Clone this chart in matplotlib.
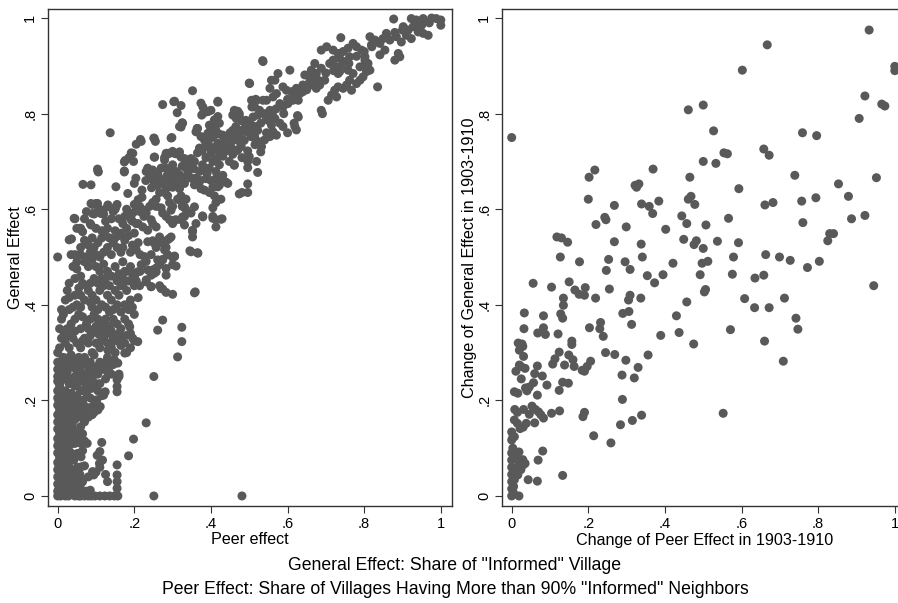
import matplotlib
matplotlib.use("Agg")
import matplotlib.pyplot as plt

plt.rcParams['font.family'] = ['Liberation Sans', 'DejaVu Sans']

# ---------------- Left panel data: (Peer effect, General Effect) ----------------
left_top = [
    (0.877,0.998),(0.923,0.999),(0.936,0.996),(0.954,0.999),(0.976,1.0),(0.988,0.999),(1.0,0.996),(1.0,0.985),
    (0.902,0.982),(0.915,0.975),(0.928,0.982),(0.941,0.971),(0.954,0.968),(0.967,0.964),(0.910,0.964),(0.923,0.957),
    (0.897,0.950),(0.884,0.961),(0.936,0.989),(0.945,0.982),(0.858,0.968),(0.849,0.957),(0.841,0.947),(0.854,0.933),
    (0.841,0.923),(0.815,0.961),(0.828,0.954),(0.819,0.944),(0.832,0.950),(0.867,0.954),(0.889,0.926),(0.880,0.912),
    (0.893,0.919),(0.739,0.959),(0.688,0.933),(0.702,0.940),(0.719,0.933),(0.732,0.926),(0.745,0.930),(0.758,0.937),
    (0.771,0.947),(0.780,0.940),(0.793,0.933),(0.802,0.919),(0.762,0.919),(0.749,0.909),(0.736,0.916),(0.536,0.909),
    (0.671,0.905),(0.662,0.891),(0.675,0.884),(0.688,0.895),(0.697,0.870),(0.710,0.905),(0.719,0.912),(0.728,0.898),
    (0.736,0.888),(0.671,0.870),(0.658,0.877),(0.645,0.881),(0.658,0.867),(0.675,0.853),(0.684,0.860),
    (0.758,0.891),(0.771,0.884),(0.789,0.898),(0.802,0.902),(0.810,0.905),(0.806,0.888),(0.797,0.877),(0.789,0.870),
    (0.762,0.870),(0.754,0.860),(0.745,0.853),(0.732,0.856),(0.723,0.849),(0.715,0.839),(0.706,0.828),(0.728,0.835),
    (0.767,0.849),(0.780,0.863),(0.815,0.891),(0.802,0.912),(0.835,0.856),(0.732,0.884),(0.691,0.800),
    (0.700,0.885),(0.720,0.890),(0.740,0.900),(0.760,0.905),(0.780,0.920),(0.800,0.930),(0.820,0.940),(0.840,0.950),
    (0.860,0.960),(0.880,0.970),(0.900,0.975),(0.950,0.985),(0.970,0.990),(0.640,0.860),(0.650,0.850),(0.660,0.860),
    (0.680,0.870),
]
left_upper = [
    (0.606,0.891),(0.575,0.884),(0.558,0.870),(0.567,0.870),(0.588,0.856),(0.597,0.849),(0.610,0.846),(0.623,0.853),
    (0.632,0.842),(0.640,0.846),(0.628,0.828),(0.614,0.828),(0.601,0.821),(0.588,0.814),(0.580,0.821),(0.571,0.842),
    (0.554,0.853),(0.545,0.828),(0.562,0.835),(0.554,0.807),(0.536,0.828),(0.519,0.828),(0.514,0.814),(0.527,0.807),
    (0.540,0.800),(0.510,0.793),(0.523,0.797),(0.549,0.786),(0.567,0.790),(0.558,0.776),(0.580,0.780),(0.588,0.773),
    (0.571,0.755),(0.562,0.762),(0.554,0.752),(0.540,0.745),(0.527,0.741),(0.532,0.731),(0.514,0.752),(0.519,0.773),
    (0.501,0.762),(0.506,0.776),(0.628,0.793),(0.623,0.766),(0.619,0.773),(0.688,0.807),(0.501,0.863),(0.506,0.828),
    (0.519,0.700),(0.617,0.780),(0.626,0.796),(0.600,0.760),(0.545,0.760),(0.530,0.720),(0.515,0.735),
    (0.352,0.848),(0.274,0.819),(0.303,0.825),(0.322,0.817),(0.374,0.822),(0.380,0.801),(0.394,0.805),(0.418,0.826),
    (0.318,0.773),(0.325,0.781),(0.365,0.769),(0.361,0.762),(0.409,0.787),(0.418,0.794),(0.396,0.776),(0.422,0.780),
    (0.137,0.760),(0.251,0.749),(0.255,0.742),(0.218,0.742),(0.205,0.736),(0.192,0.718),(0.198,0.700),(0.186,0.708),
    (0.174,0.680),(0.176,0.702),(0.105,0.680),(0.296,0.749),(0.300,0.721),(0.287,0.717),(0.309,0.716),(0.279,0.708),
    (0.283,0.717),(0.253,0.709),(0.322,0.709),(0.331,0.706),(0.339,0.699),(0.348,0.706),(0.357,0.700),(0.335,0.686),
    (0.365,0.718),(0.370,0.728),(0.377,0.722),(0.387,0.736),(0.394,0.744),(0.405,0.751),(0.413,0.765),(0.422,0.757),
    (0.457,0.765),(0.465,0.773),(0.448,0.755),(0.474,0.794),(0.461,0.801),(0.470,0.805),(0.500,0.864),(0.535,0.911),
    (0.511,0.823),(0.517,0.830),(0.481,0.785),(0.491,0.786),(0.491,0.762),(0.487,0.744),(0.478,0.736),(0.496,0.722),
    (0.481,0.708),(0.509,0.751),(0.522,0.765),(0.379,0.814),(0.390,0.804),(0.400,0.807),(0.376,0.797),(0.461,0.807),
    (0.457,0.797),(0.466,0.790),(0.474,0.800),(0.487,0.783),(0.496,0.780),(0.507,0.814),(0.326,0.780),(0.322,0.772),
    (0.364,0.769),(0.374,0.752),(0.383,0.745),(0.392,0.759),(0.400,0.769),(0.409,0.773),(0.431,0.755),(0.435,0.745),
    (0.461,0.745),(0.470,0.759),(0.483,0.766),(0.505,0.752),(0.392,0.731),(0.400,0.717),(0.418,0.738),(0.426,0.735),
    (0.452,0.731),(0.470,0.724),(0.479,0.731),(0.500,0.710),(0.216,0.746),(0.196,0.717),(0.252,0.748),(0.298,0.750),
    (0.252,0.709),(0.283,0.713),(0.292,0.717),(0.305,0.717),(0.318,0.720),(0.340,0.703),(0.348,0.692),(0.279,0.703),
    (0.104,0.684),(0.305,0.826),(0.312,0.802),(0.418,0.824),
    (0.415,0.705),(0.430,0.730),(0.440,0.740),(0.450,0.760),(0.475,0.750),(0.490,0.770),(0.510,0.770),(0.530,0.780),
    (0.545,0.790),(0.560,0.800),(0.570,0.810),(0.590,0.800),(0.600,0.830),(0.620,0.840),
]
left_mid = [
    (0.448,0.736),(0.439,0.722),(0.431,0.711),(0.457,0.715),(0.465,0.722),(0.448,0.700),(0.461,0.693),
    (0.405,0.729),(0.418,0.722),(0.387,0.708),(0.378,0.693),(0.370,0.679),(0.405,0.700),(0.422,0.693),(0.413,0.679),
    (0.396,0.686),(0.431,0.671),(0.427,0.664),(0.439,0.657),(0.413,0.664),(0.387,0.664),(0.370,0.657),(0.405,0.646),
    (0.396,0.635),(0.409,0.628),(0.422,0.650),(0.374,0.643),(0.496,0.700),(0.496,0.687),(0.522,0.677),(0.496,0.653),
    (0.474,0.632),(0.496,0.635),(0.481,0.635),(0.413,0.614),(0.426,0.621),(0.413,0.578),(0.413,0.563),(0.429,0.580),
    (0.405,0.585),(0.405,0.603),(0.378,0.586),(0.352,0.556),(0.352,0.542),(0.345,0.513),(0.365,0.509),(0.361,0.570),
    (0.348,0.592),(0.335,0.599),(0.325,0.606),(0.335,0.621),(0.461,0.692),(0.444,0.654),(0.418,0.647),(0.383,0.640),
    (0.357,0.651),(0.370,0.661),(0.348,0.665),(0.331,0.654),(0.318,0.672),(0.405,0.581),(0.426,0.579),(0.379,0.584),
    (0.331,0.567),(0.352,0.553),(0.326,0.584),(0.305,0.577),(0.296,0.598),(0.331,0.605),(0.357,0.605),(0.318,0.619),
    (0.348,0.511),(0.366,0.508),
    (0.300,0.664),(0.309,0.679),(0.292,0.679),(0.318,0.671),(0.326,0.664),(0.283,0.664),(0.274,0.657),(0.266,0.653),
    (0.257,0.650),(0.248,0.664),(0.240,0.671),(0.231,0.679),(0.235,0.686),(0.248,0.682),(0.261,0.675),(0.283,0.686),
    (0.300,0.693),(0.270,0.686),(0.309,0.653),(0.300,0.646),(0.318,0.643),(0.283,0.643),(0.266,0.635),(0.257,0.621),
    (0.248,0.614),(0.240,0.606),(0.257,0.606),(0.270,0.603),(0.274,0.592),(0.283,0.585),(0.292,0.578),(0.300,0.570),
    (0.309,0.578),(0.322,0.578),(0.331,0.585),(0.313,0.621),(0.322,0.628),(0.300,0.606),(0.292,0.614),(0.287,0.628),
    (0.279,0.635),(0.200,0.654),(0.204,0.665),(0.183,0.633),(0.235,0.682),(0.244,0.672),(0.252,0.654),(0.174,0.678),
    (0.174,0.699),(0.152,0.647),(0.087,0.651),(0.106,0.678),(0.066,0.652),
    (0.296,0.542),(0.305,0.502),(0.300,0.484),(0.274,0.495),(0.266,0.484),(0.257,0.477),(0.270,0.534),(0.274,0.531),
    (0.287,0.505),(0.283,0.520),(0.266,0.542),(0.257,0.563),(0.248,0.570),(0.244,0.578),(0.231,0.592),(0.222,0.599),
    (0.214,0.606),(0.205,0.599),(0.196,0.592),(0.192,0.578),(0.205,0.570),(0.222,0.563),(0.235,0.556),(0.248,0.534),
    (0.257,0.520),(0.244,0.505),(0.231,0.491),(0.218,0.484),(0.209,0.469),(0.201,0.462),(0.196,0.448),(0.214,0.440),
    (0.231,0.448),(0.244,0.462),(0.257,0.469),(0.266,0.440),(0.274,0.433),(0.283,0.426),(0.300,0.422),(0.253,0.473),
    (0.283,0.462),(0.235,0.532),(0.252,0.529),(0.274,0.529),(0.279,0.515),(0.287,0.536),(0.292,0.539),(0.274,0.494),
    (0.261,0.494),(0.235,0.473),(0.248,0.473),(0.226,0.501),(0.231,0.452),(0.252,0.466),(0.244,0.438),(0.283,0.476),
    (0.309,0.481),(0.305,0.501),(0.300,0.499),(0.357,0.425),(0.359,0.427),(0.270,0.434),(0.244,0.438),
    (0.220,0.640),(0.230,0.660),(0.245,0.645),(0.265,0.665),(0.285,0.670),(0.295,0.655),(0.310,0.665),(0.325,0.690),
    (0.340,0.675),(0.355,0.685),(0.360,0.665),(0.385,0.685),(0.390,0.675),(0.400,0.660),
]
left_band = [
    (0.090,0.610),(0.100,0.612),(0.110,0.600),(0.095,0.590),(0.120,0.590),(0.130,0.605),(0.140,0.580),(0.150,0.600),
    (0.160,0.580),(0.170,0.570),(0.180,0.600),(0.190,0.590),(0.200,0.610),(0.210,0.620),(0.220,0.625),(0.085,0.570),
    (0.070,0.580),(0.045,0.580),(0.050,0.560),(0.060,0.560),(0.100,0.560),(0.115,0.555),(0.130,0.560),(0.150,0.555),
    (0.165,0.550),(0.180,0.560),(0.200,0.550),(0.210,0.570),(0.225,0.585),(0.155,0.610),(0.036,0.538),(0.000,0.500),
    (0.043,0.581),(0.057,0.560),(0.065,0.553),(0.074,0.532),(0.087,0.567),(0.087,0.612),(0.104,0.612),(0.091,0.591),
    (0.113,0.591),(0.131,0.609),(0.152,0.605),
    (0.075,0.595),(0.105,0.597),(0.125,0.575),(0.145,0.595),(0.175,0.585),(0.195,0.575),(0.215,0.595),
    (0.035,0.505),(0.045,0.505),(0.060,0.505),(0.075,0.500),(0.085,0.510),(0.095,0.520),(0.105,0.530),(0.115,0.540),
    (0.125,0.545),(0.135,0.540),(0.145,0.530),(0.155,0.520),(0.165,0.510),(0.175,0.535),(0.185,0.545),(0.195,0.525),
    (0.205,0.515),(0.215,0.505),(0.110,0.500),(0.120,0.510),(0.130,0.520),(0.140,0.505),(0.160,0.545),(0.080,0.525),
    (0.070,0.535),(0.170,0.490),(0.030,0.536),
    (0.090,0.540),(0.100,0.505),(0.150,0.540),(0.170,0.520),(0.190,0.510),(0.210,0.530),(0.060,0.520),(0.050,0.490),
    (0.040,0.480),(0.050,0.475),(0.060,0.460),(0.070,0.490),(0.080,0.480),(0.090,0.495),(0.100,0.480),(0.110,0.470),
    (0.120,0.485),(0.130,0.470),(0.140,0.460),(0.150,0.480),(0.160,0.465),(0.170,0.455),(0.180,0.470),(0.190,0.480),
    (0.200,0.460),(0.205,0.450),(0.215,0.470),(0.065,0.445),(0.045,0.455),(0.095,0.455),(0.125,0.455),(0.105,0.445),
    (0.155,0.450),(0.185,0.450),
    (0.055,0.435),(0.085,0.445),(0.115,0.455),(0.135,0.440),(0.165,0.440),(0.175,0.470),(0.195,0.465),(0.030,0.445),
    (0.025,0.430),(0.045,0.420),
    (0.020,0.410),(0.030,0.415),(0.040,0.395),(0.050,0.400),(0.060,0.420),(0.070,0.410),(0.080,0.430),(0.090,0.420),
    (0.100,0.410),(0.110,0.430),(0.120,0.440),(0.130,0.420),(0.140,0.410),(0.150,0.430),(0.160,0.420),(0.170,0.440),
    (0.180,0.430),(0.190,0.410),(0.200,0.440),(0.210,0.415),(0.075,0.440),(0.085,0.405),(0.105,0.390),(0.125,0.395),
    (0.145,0.390),(0.165,0.385),(0.185,0.390),(0.200,0.380),
    (0.030,0.390),(0.060,0.395),(0.090,0.395),(0.115,0.400),(0.135,0.385),(0.155,0.400),(0.175,0.400),(0.195,0.395),
    (0.010,0.390),
    (0.010,0.370),(0.015,0.380),(0.025,0.350),(0.035,0.360),(0.045,0.370),(0.055,0.380),(0.065,0.375),(0.075,0.360),
    (0.085,0.370),(0.095,0.380),(0.105,0.370),(0.115,0.360),(0.125,0.370),(0.135,0.355),(0.145,0.370),(0.155,0.360),
    (0.165,0.350),(0.175,0.370),(0.185,0.360),(0.060,0.350),(0.080,0.350),(0.100,0.355),(0.120,0.340),(0.140,0.345),
    (0.035,0.340),(0.015,0.345),(0.170,0.335),(0.190,0.340),
    (0.005,0.350),(0.025,0.335),(0.045,0.345),(0.065,0.325),(0.085,0.335),(0.095,0.345),(0.115,0.325),(0.145,0.330),
    (0.160,0.340),(0.175,0.320),(0.150,0.300),(0.005,0.310),(0.000,0.300),
    (0.010,0.330),(0.020,0.320),(0.030,0.310),(0.040,0.330),(0.050,0.320),(0.060,0.310),(0.070,0.330),(0.080,0.320),
    (0.090,0.300),(0.100,0.320),(0.110,0.310),(0.120,0.330),(0.130,0.320),(0.140,0.310),(0.155,0.325),(0.165,0.315),
    (0.180,0.300),(0.200,0.325),(0.190,0.310),(0.105,0.340),(0.130,0.345),(0.196,0.330),(0.209,0.323),(0.183,0.337),
    (0.175,0.299),(0.188,0.354),(0.131,0.305),(0.140,0.319),(0.110,0.337),(0.115,0.347),(0.136,0.340),
]
left_base = [
    (0.000,0.250),(0.005,0.260),(0.010,0.270),(0.020,0.280),(0.025,0.260),(0.030,0.290),(0.040,0.270),(0.045,0.250),
    (0.050,0.280),(0.055,0.290),(0.060,0.260),(0.065,0.275),(0.070,0.290),(0.075,0.250),(0.080,0.270),(0.085,0.280),
    (0.090,0.260),(0.100,0.270),(0.110,0.280),(0.120,0.265),(0.130,0.260),(0.135,0.270),(0.150,0.280),(0.155,0.250),
    (0.160,0.255),(0.015,0.290),(0.035,0.295),(0.095,0.295),(0.157,0.278),(0.148,0.285),
    (0.000,0.280),(0.000,0.265),(0.000,0.205),(0.008,0.240),(0.012,0.285),(0.018,0.255),(0.028,0.275),(0.033,0.245),
    (0.038,0.285),(0.048,0.265),(0.052,0.235),(0.062,0.285),(0.068,0.255),(0.072,0.225),(0.082,0.255),(0.088,0.225),
    (0.095,0.265),(0.105,0.255),(0.110,0.235),(0.115,0.270),(0.125,0.280),(0.140,0.255),(0.145,0.275),(0.125,0.245),
    (0.130,0.290),
    (0.000,0.240),(0.000,0.220),(0.005,0.230),(0.010,0.210),(0.015,0.245),(0.020,0.220),(0.025,0.205),(0.030,0.235),
    (0.035,0.215),(0.040,0.200),(0.045,0.230),(0.050,0.210),(0.055,0.245),(0.060,0.220),(0.065,0.200),(0.070,0.240),
    (0.075,0.215),(0.080,0.230),(0.085,0.205),(0.090,0.245),(0.100,0.235),(0.105,0.220),(0.115,0.210),(0.155,0.218),
    (0.155,0.229),(0.120,0.211),(0.124,0.218),(0.102,0.201),(0.111,0.187),(0.160,0.250),(0.155,0.243),(0.095,0.200),
    (0.000,0.190),(0.000,0.170),(0.000,0.155),(0.005,0.180),(0.010,0.160),(0.015,0.195),(0.020,0.170),(0.025,0.185),
    (0.030,0.155),(0.035,0.190),(0.040,0.170),(0.045,0.160),(0.050,0.180),(0.055,0.195),(0.060,0.165),(0.065,0.175),
    (0.070,0.155),(0.075,0.185),(0.080,0.165),(0.090,0.170),(0.100,0.190),(0.105,0.180),(0.100,0.200),
    (0.003,0.200),(0.008,0.165),(0.012,0.185),(0.018,0.155),(0.022,0.200),(0.028,0.165),(0.033,0.175),(0.038,0.150),
    (0.042,0.185),(0.048,0.195),(0.058,0.175),(0.068,0.190),(0.073,0.170),(0.085,0.185),(0.095,0.175),
    (0.000,0.140),(0.000,0.120),(0.000,0.105),(0.005,0.130),(0.010,0.110),(0.015,0.145),(0.020,0.120),(0.025,0.135),
    (0.030,0.105),(0.035,0.125),(0.040,0.140),(0.045,0.110),(0.050,0.130),(0.060,0.145),(0.070,0.115),(0.061,0.110),
    (0.077,0.110),(0.115,0.112),(0.065,0.095),(0.110,0.093),
    (0.008,0.125),(0.012,0.140),(0.018,0.105),(0.022,0.130),(0.028,0.120),(0.032,0.145),(0.038,0.110),(0.043,0.125),
    (0.055,0.120),(0.065,0.130),(0.003,0.110),
    (0.000,0.090),(0.000,0.070),(0.000,0.055),(0.005,0.080),(0.010,0.060),(0.015,0.095),(0.020,0.075),(0.025,0.085),
    (0.030,0.060),(0.035,0.090),(0.045,0.050),(0.052,0.089),(0.061,0.082),(0.061,0.061),(0.070,0.063),(0.094,0.044),
    (0.091,0.051),(0.117,0.075),(0.109,0.068),(0.155,0.065),(0.155,0.044),(0.155,0.030),(0.155,0.016),(0.080,0.040),
    (0.060,0.035),(0.061,0.026),(0.061,0.012),
    (0.003,0.065),(0.008,0.045),(0.012,0.085),(0.018,0.060),(0.022,0.035),(0.028,0.070),(0.032,0.090),(0.038,0.055),
    (0.042,0.075),(0.003,0.015),(0.008,0.000),(0.013,0.025),(0.018,0.010),(0.028,0.000),(0.033,0.015),(0.038,0.030),
    (0.043,0.010),(0.048,0.035),(0.052,0.060),(0.058,0.045),(0.065,0.010),(0.085,0.012),(0.100,0.050),(0.103,0.085),
    (0.125,0.045),(0.110,0.060),(0.130,0.030),
    (0.000,0.040),(0.000,0.025),(0.000,0.010),(0.000,0.000),(0.005,0.035),(0.010,0.015),(0.015,0.045),(0.020,0.000),
    (0.025,0.020),(0.030,0.030),(0.035,0.005),(0.040,0.040),(0.045,0.000),(0.050,0.020),(0.055,0.000),(0.060,0.000),
    (0.065,0.030),(0.070,0.000),(0.075,0.010),(0.080,0.000),(0.088,0.000),(0.097,0.000),(0.110,0.000),(0.123,0.000),
    (0.136,0.000),(0.148,0.000),(0.157,0.000),(0.030,0.045),(0.045,0.025),
    (0.251,0.250),(0.231,0.153),(0.198,0.119),(0.185,0.084),(0.313,0.291),(0.324,0.353),(0.324,0.323),(0.261,0.347),
    (0.274,0.368),(0.251,0.000),(0.481,0.000),
]

# ---------------- Right panel data: (Change of Peer Effect, Change of General Effect) ----------------
right_high = [
    (0.000,0.750),(0.933,0.975),(0.667,0.944),(0.602,0.891),(1.000,0.899),(1.000,0.890),(0.500,0.818),(0.461,0.808),
    (0.922,0.837),(0.966,0.820),(0.974,0.816),(0.907,0.790),(0.527,0.764),(0.759,0.760),(0.796,0.754),(0.554,0.718),
    (0.563,0.716),(0.658,0.726),(0.672,0.713),(0.500,0.700),(0.533,0.696),(0.739,0.671),(0.369,0.684),(0.217,0.682),
    (0.202,0.667),(0.465,0.667),(0.322,0.650),(0.332,0.653),(0.326,0.646),(0.593,0.643),(0.853,0.653),(0.200,0.621),
    (0.384,0.617),(0.339,0.611),(0.359,0.606),(0.368,0.591),(0.461,0.621),(0.468,0.627),(0.478,0.610),(0.661,0.609),
    (0.682,0.614),(0.757,0.617),(0.794,0.624),(0.879,0.627),(0.268,0.608),(0.444,0.586),(0.922,0.587),(0.566,0.581),
    (0.887,0.580),(0.952,0.666),(0.243,0.583),(0.246,0.578),(0.220,0.568),(0.402,0.558),(0.457,0.570),(0.507,0.567),
    (0.760,0.572),(0.299,0.563),
]
right_mid = [
    (0.118,0.542),(0.130,0.540),(0.146,0.531),(0.268,0.532),(0.338,0.527),(0.449,0.537),(0.482,0.534),(0.476,0.526),
    (0.500,0.518),(0.537,0.533),(0.592,0.530),(0.830,0.549),(0.840,0.549),(0.825,0.534),(0.127,0.500),(0.177,0.490),
    (0.253,0.495),(0.341,0.500),(0.296,0.490),(0.247,0.472),(0.309,0.474),(0.421,0.487),(0.497,0.487),(0.512,0.491),
    (0.579,0.500),(0.663,0.505),(0.699,0.500),(0.727,0.493),(0.803,0.491),(0.772,0.478),(0.354,0.461),(0.373,0.446),
    (0.395,0.463),(0.492,0.463),(0.576,0.464),(0.635,0.456),(0.658,0.462),(0.945,0.440),(0.056,0.445),(0.104,0.437),
    (0.150,0.448),(0.165,0.431),(0.176,0.422),(0.190,0.420),(0.192,0.436),(0.255,0.433),(0.219,0.414),(0.135,0.414),
    (0.135,0.399),(0.506,0.432),(0.503,0.427),(0.309,0.420),(0.305,0.410),(0.337,0.414),(0.457,0.406),(0.608,0.413),
    (0.712,0.414),(0.634,0.394),(0.672,0.394),(0.033,0.383),(0.128,0.381),(0.133,0.372),(0.083,0.377),(0.290,0.382),
    (0.306,0.386),(0.430,0.377),(0.742,0.372),(0.032,0.350),(0.083,0.352),(0.088,0.338),(0.068,0.341),(0.121,0.339),
    (0.203,0.352),(0.232,0.363),(0.230,0.350),(0.239,0.334),(0.313,0.359),(0.389,0.336),(0.437,0.342),(0.571,0.348),
    (0.747,0.349),
]
right_low = [
    (0.017,0.320),(0.029,0.313),(0.020,0.305),(0.027,0.318),(0.157,0.324),(0.157,0.317),(0.245,0.300),(0.269,0.296),
    (0.356,0.295),(0.475,0.318),(0.660,0.324),(0.709,0.282),(0.031,0.292),(0.035,0.267),(0.024,0.271),(0.011,0.261),
    (0.020,0.274),(0.060,0.256),(0.067,0.272),(0.080,0.251),(0.092,0.232),(0.107,0.276),(0.113,0.287),(0.124,0.301),
    (0.149,0.295),(0.160,0.285),(0.163,0.271),(0.138,0.274),(0.184,0.263),(0.190,0.261),(0.197,0.271),(0.206,0.282),
    (0.298,0.284),(0.330,0.269),(0.288,0.253),(0.320,0.247),(0.133,0.238),(0.148,0.236),(0.124,0.221),(0.025,0.245),
    (0.036,0.226),(0.040,0.220),(0.046,0.228),(0.007,0.218),(0.016,0.215),(0.057,0.237),(0.067,0.211),(0.008,0.181),
    (0.015,0.175),(0.031,0.181),(0.053,0.188),(0.062,0.181),(0.070,0.176),(0.076,0.170),(0.083,0.163),(0.046,0.171),
    (0.104,0.173),(0.125,0.178),(0.190,0.175),(0.186,0.166),(0.022,0.141),(0.030,0.144),(0.038,0.152),(0.007,0.159),
    (0.015,0.152),(0.060,0.153),(0.289,0.202),(0.284,0.149),(0.315,0.158),(0.339,0.169),(0.552,0.173),(0.214,0.126),
    (0.259,0.111),(0.000,0.134),(0.003,0.123),(0.000,0.117),(0.007,0.124),(0.081,0.094),(0.069,0.075),(0.019,0.092),
    (0.043,0.034),(0.067,0.031),(0.133,0.043),(0.019,0.000),
    (0.000,0.000),(0.000,0.015),(0.000,0.030),(0.000,0.045),(0.000,0.060),(0.000,0.075),(0.000,0.090),(0.003,0.100),
    (0.011,0.058),(0.020,0.069),(0.029,0.076),(0.030,0.065),(0.024,0.055),(0.016,0.044),(0.007,0.034),(0.005,0.020),
    (0.012,0.080),(0.035,0.068),(0.004,0.008),
]

left_pts = left_top + left_upper + left_mid + left_band + left_base
right_pts = right_high + right_mid + right_low
peer_effect = [p[0] for p in left_pts]
general_effect = [p[1] for p in left_pts]
chg_peer = [p[0] for p in right_pts]
chg_general = [p[1] for p in right_pts]

ticks = [0, 0.2, 0.4, 0.6, 0.8, 1.0]
tick_labels = ["0", ".2", ".4", ".6", ".8", "1"]

W, H = 898, 603
fig = plt.figure(figsize=(W / 100, H / 100), dpi=100)

marker_color = '#595959'
fs_tick = 10.5
fs_lab = 11.6
fs_note = 12.7

def make_axes(left_px, xs, ys, xlabel, ylabel):
    ax = fig.add_axes([left_px / W, (H - 506) / H, 404 / W, (506 - 9) / H])
    ax.scatter(xs, ys, s=42, color=marker_color, edgecolors='none', zorder=3, clip_on=True)
    ax.set_xlim(-0.0245, 1.030)
    ax.set_ylim(-0.021, 1.019)
    ax.set_xticks(ticks)
    ax.set_xticklabels(tick_labels, fontsize=fs_tick)
    ax.set_yticks(ticks)
    ax.set_yticklabels(tick_labels, fontsize=fs_tick, rotation=90, va='center')
    ax.tick_params(direction='out', length=5, width=0.8, color='#333333', pad=3)
    for sp in ax.spines.values():
        sp.set_linewidth(1.0)
        sp.set_color('#333333')
    ax.set_xlabel(xlabel, fontsize=fs_lab, labelpad=1)
    ax.set_ylabel(ylabel, fontsize=fs_lab, labelpad=0)
    return ax

ax1 = make_axes(48.3, peer_effect, general_effect, "Peer effect", "General Effect")
ax2 = make_axes(502.3, chg_peer, chg_general, "Change of Peer Effect in 1903-1910",
                "Change of General Effect in 1903-1910")

fig.text(455 / W, 1 - 566 / H, 'General Effect: Share of "Informed" Village',
         ha='center', va='center', fontsize=fs_note)
fig.text(455 / W, 1 - 590 / H, 'Peer Effect: Share of Villages Having More than 90% "Informed" Neighbors',
         ha='center', va='center', fontsize=fs_note)

fig.savefig("out.png", dpi=100)
